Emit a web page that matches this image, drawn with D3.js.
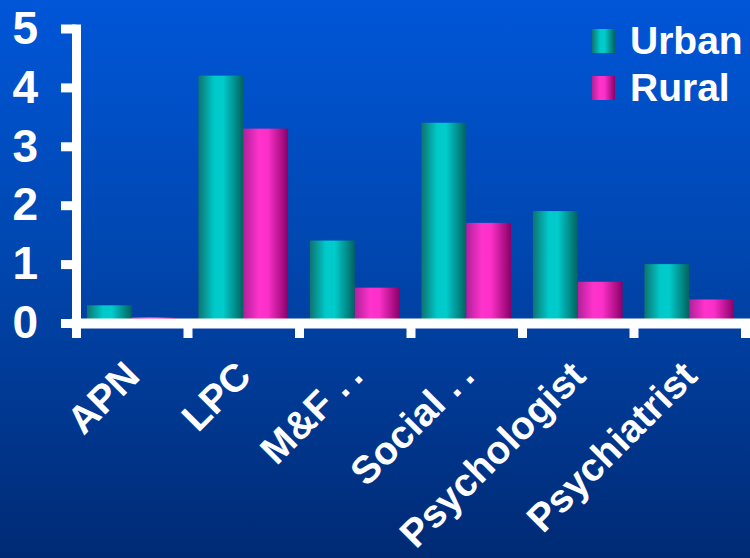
<!DOCTYPE html>
<html lang="en">
<head>
<meta charset="utf-8">
<title>Urban vs Rural providers</title>
<script src="https://d3js.org/d3.v7.min.js"></script>
<style>
  html, body { margin: 0; padding: 0; background: #003a9e; }
  svg { display: block; }
  text { font-family: "Liberation Sans", Arial, sans-serif; fill: #fff; }
</style>
</head>
<body>
<div id="my_dataviz"></div>
<script>
// data
var categories = ["APN", "LPC", "M&F .\u2009.", "Social .\u2009.", "Psychologist", "Psychiatrist"];
var seriesNames = ["Urban", "Rural"];
var urban = [0.3, 4.2, 1.4, 3.4, 1.9, 1.0];
var rural = [0.1, 3.3, 0.6, 1.7, 0.7, 0.4];
var yTicks = [0, 1, 2, 3, 4, 5];

var width = 750, height = 558;
var svg = d3.select("#my_dataviz").append("svg")
  .attr("width", width).attr("height", height);

var defs = svg.append("defs");

// background
var bg = defs.append("linearGradient").attr("id", "bg")
  .attr("x1", 0).attr("y1", 0).attr("x2", 0).attr("y2", 1);
bg.append("stop").attr("offset", "0%").attr("stop-color", "#0056d8");
bg.append("stop").attr("offset", "45%").attr("stop-color", "#0047b0");
bg.append("stop").attr("offset", "100%").attr("stop-color", "#002a74");
svg.append("rect").attr("width", width).attr("height", height).attr("fill", "url(#bg)");

// cylinder-ish shading for the bars
function barGrad(id, stops) {
  var g = defs.append("linearGradient").attr("id", id)
    .attr("x1", 0).attr("y1", 0).attr("x2", 1).attr("y2", 0);
  stops.forEach(function(s) {
    g.append("stop").attr("offset", s[0]).attr("stop-color", s[1]);
  });
}
barGrad("gUrban", [["0%", "#0d7470"], ["35%", "#00c9c9"], ["55%", "#00cccc"], ["100%", "#02625e"]]);
barGrad("gRural", [["0%", "#b0209a"], ["35%", "#ff33cc"], ["55%", "#fb30c8"], ["100%", "#8a0068"]]);
var fills = { Urban: "url(#gUrban)", Rural: "url(#gRural)" };

// scales
var plotLeft = 76, plotRight = 745, plotTop = 28.5, plotBottom = 323;
var x = d3.scaleBand().domain(categories).range([plotLeft, plotRight]).paddingInner(0).paddingOuter(0);
var x1 = d3.scaleBand().domain(seriesNames).range([0, x.bandwidth()]).paddingInner(0).paddingOuter(0.244);
var xEdge = d3.scaleLinear().domain([0, categories.length]).range([plotLeft, plotRight]);
var y = d3.scaleLinear().domain([0, 5]).range([plotBottom, plotTop]);

var rows = categories.map(function(c, i) {
  return { cat: c, Urban: urban[i], Rural: rural[i] };
});

// bars
var groups = svg.selectAll("g.cat")
  .data(rows).enter().append("g")
  .attr("class", "cat")
  .attr("transform", function(d) { return "translate(" + x(d.cat) + ",0)"; });

groups.selectAll("rect")
  .data(function(d) { return seriesNames.map(function(s) { return { key: s, value: d[s] }; }); })
  .enter().append("rect")
  .attr("x", function(d) { return x1(d.key); })
  .attr("width", x1.bandwidth())
  .attr("y", function(d) { return y(d.value); })
  .attr("height", function(d) { return y(0) - y(d.value); })
  .attr("fill", function(d) { return fills[d.key]; });

// axes
var yAxis = svg.append("g")
  .attr("transform", "translate(" + plotLeft + ",0)")
  .call(d3.axisLeft(y).tickValues(yTicks).tickFormat(d3.format("d"))
    .tickSize(15).tickSizeOuter(0).tickPadding(23));
yAxis.select(".domain").attr("stroke", "#fff").attr("stroke-width", 9).attr("stroke-linecap", "square");
yAxis.selectAll(".tick line").attr("stroke", "#fff").attr("stroke-width", 9);
yAxis.selectAll(".tick text")
  .style("font-size", "46px").style("font-weight", "bold").attr("fill", "#fff");

var xAxis = svg.append("g")
  .attr("transform", "translate(0," + plotBottom + ")")
  .call(d3.axisBottom(xEdge).ticks(categories.length).tickSize(15).tickSizeOuter(0).tickFormat(""));
xAxis.select(".domain").attr("stroke", "#fff").attr("stroke-width", 10).attr("stroke-linecap", "square");
xAxis.selectAll(".tick line").attr("stroke", "#fff").attr("stroke-width", 9);

// category labels, rotated
svg.selectAll("text.cat")
  .data(categories).enter().append("text")
  .attr("class", "cat")
  .attr("text-anchor", "end")
  .attr("transform", function(d) {
    return "translate(" + (x(d) + x.bandwidth() / 2 + 10) + ",378) rotate(-45)";
  })
  .style("font-size", "39px").style("font-weight", "bold")
  .text(function(d) { return d; });

// legend
var legend = svg.selectAll("g.legend")
  .data(seriesNames).enter().append("g")
  .attr("class", "legend")
  .attr("transform", function(d, i) { return "translate(592," + (29 + i * 47) + ")"; });
legend.append("rect").attr("width", 23).attr("height", 24)
  .attr("fill", function(d) { return fills[d]; });
legend.append("text").attr("x", 38).attr("y", 25)
  .style("font-size", "39px").style("font-weight", "bold")
  .text(function(d) { return d; });
</script>
</body>
</html>
